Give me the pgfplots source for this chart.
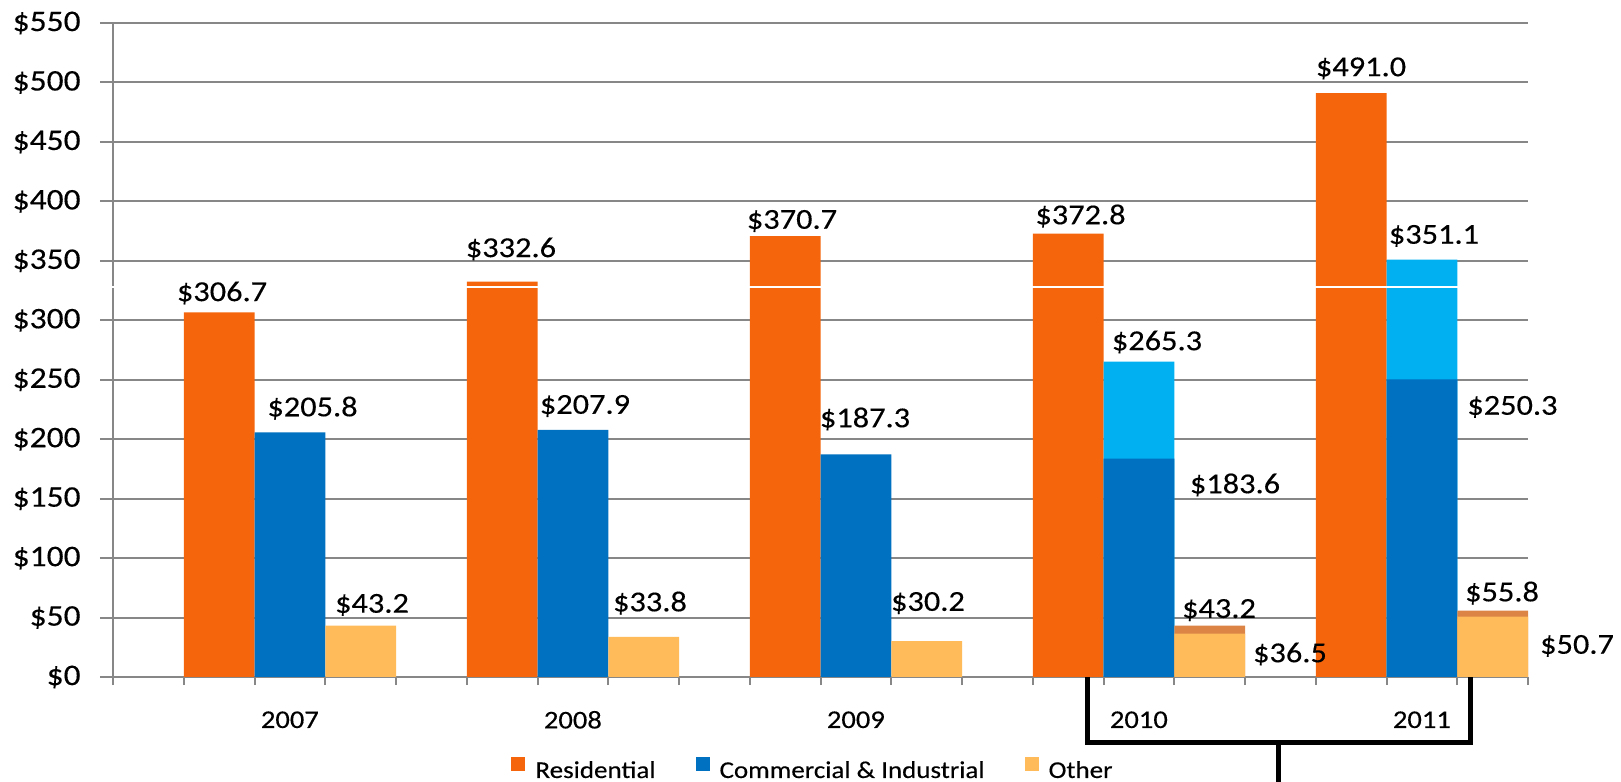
\documentclass[border=0pt]{standalone}
\usepackage{pgfplots}
\pgfplotsset{compat=1.18}
\usepackage{fontspec}
\setmainfont{Carlito}[FakeStretch=1.12, FakeBold=0.3]
\definecolor{cRes}{HTML}{F5650C}
\definecolor{cCom}{HTML}{0070C0}
\definecolor{cComL}{HTML}{00B0F0}
\definecolor{cOth}{HTML}{FFBA5A}
\definecolor{cOthD}{HTML}{DB8446}
\definecolor{cGrid}{HTML}{878787}
\newcommand\lbl[3]{\node[font=\fontsize{14.5}{16}\selectfont, inner sep=0pt, anchor=center] at (axis cs:#1,#2) {\$#3};}
\begin{document}
\begin{tikzpicture}
\useasboundingbox (0,0) rectangle (810.5bp,391bp);
\begin{axis}[
  at={(56.5bp,52.5bp)}, anchor=south west,
  scale only axis, width=707.5bp, height=327bp,
  xmin=0, xmax=20, ymin=0, ymax=550,
  axis lines*=left,
  axis line style={cGrid, line width=1.2bp},
  clip=false,
  ytick={0,50,...,550},
  yticklabels={\$0,\$50,\$100,\$150,\$200,\$250,\$300,\$350,\$400,\$450,\$500,\$550},
  ymajorgrids,
  grid style={cGrid, line width=1bp},
  tick align=outside,
  major tick length=6.5bp,
  minor tick length=4bp,
  major y tick style={cGrid, line width=1bp},
  major x tick style={draw=none},
  minor x tick style={cGrid, line width=1bp},
  xtick={2.5,6.5,10.5,14.5,18.5},
  xticklabels={2007,2008,2009,2010,2011},
  minor xtick={0,1,...,20},
  yticklabel style={font=\fontsize{15}{17}\selectfont, anchor=east, inner sep=0pt, xshift=-9.5bp},
  xticklabel style={font=\fontsize{12.8}{14}\selectfont, anchor=center, inner sep=0pt, yshift=-14.9bp},
  legend columns=3,
  legend style={draw=none, fill=none, at={(0.494,-0.1407)}, anchor=center,
    font=\fontsize{12.1}{14}\selectfont, nodes={inner sep=0pt},
    /tikz/every even column/.append style={column sep=20bp}},
]
\addplot[ybar, bar width=35.375bp, bar shift=0pt, fill=cRes, draw=none,
  legend image code/.code={\fill[cRes] (0bp,0bp) rectangle (7bp,7bp); \path (12bp,0bp);}]
  coordinates {(1.5,306.7) (5.5,332.6) (9.5,370.7) (13.5,372.8) (17.5,491.0)};
\addlegendentry{Residential}
\addplot[ybar, bar width=35.375bp, bar shift=0pt, fill=cComL, draw=none, forget plot]
  coordinates {(14.5,265.3) (18.5,351.1)};
\addplot[ybar, bar width=35.375bp, bar shift=0pt, fill=cCom, draw=none,
  legend image code/.code={\fill[cCom] (0bp,0bp) rectangle (7bp,7bp); \path (12bp,0bp);}]
  coordinates {(2.5,205.8) (6.5,207.9) (10.5,187.3) (14.5,183.6) (18.5,250.3)};
\addlegendentry{Commercial \& Industrial}
\addplot[ybar, bar width=35.375bp, bar shift=0pt, fill=cOthD, draw=none, forget plot]
  coordinates {(15.5,43.2) (19.5,55.8)};
\addplot[ybar, bar width=35.375bp, bar shift=0pt, fill=cOth, draw=none,
  legend image code/.code={\fill[cOth] (0bp,0bp) rectangle (7bp,7bp); \path (12bp,0bp);}]
  coordinates {(3.5,43.2) (7.5,33.8) (11.5,30.2) (15.5,36.5) (19.5,50.7)};
\addlegendentry{Other}
\draw[white, line width=0.6bp] (axis cs:-0.05,328) -- (axis cs:20,328);
\lbl{1.541}{323.0}{306.7}
\lbl{2.820}{226.2}{205.8}
\lbl{3.661}{60.6}{43.2}
\lbl{5.625}{360.0}{332.6}
\lbl{6.671}{227.9}{207.9}
\lbl{7.590}{62.2}{33.8}
\lbl{9.597}{383.5}{370.7}
\lbl{10.629}{217.0}{187.3}
\lbl{11.519}{62.2}{30.2}
\lbl{13.675}{387.7}{372.8}
\lbl{14.756}{281.7}{265.3}
\lbl{15.859}{161.5}{183.6}
\lbl{15.633}{56.3}{43.2}
\lbl{16.636}{19.3}{36.5}
\lbl{17.640}{511.8}{491.0}
\lbl{18.671}{370.9}{351.1}
\lbl{19.780}{227.1}{250.3}
\lbl{19.633}{70.6}{55.8}
\lbl{20.693}{26.1}{50.7}
\draw[black, line width=2.5bp, line join=miter] (axis cs:13.78,0) -- (axis cs:13.78,-55.5) -- (axis cs:19.19,-55.5) -- (axis cs:19.19,0);
\draw[black, line width=2.5bp] (axis cs:16.48,-55.5) -- (axis cs:16.48,-100);
\end{axis}
\end{tikzpicture}
\end{document}
